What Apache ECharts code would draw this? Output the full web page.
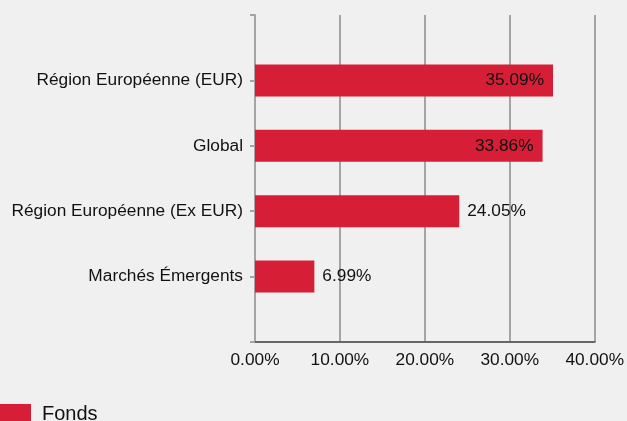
<!DOCTYPE html>
<html><head><meta charset="utf-8">
<script src="https://cdn.jsdelivr.net/npm/echarts@6/dist/echarts.min.js"></script>
<style>html,body{margin:0;padding:0;background:#f0f0f0}#c{width:627px;height:421px}</style>
</head><body><div id="c"></div>
<script>
const categories = ['Région Européenne (EUR)', 'Global', 'Région Européenne (Ex EUR)', 'Marchés Émergents'];
const values = [35.09, 33.86, 24.05, 6.99];
const seriesName = 'Fonds';
const xTicks = [0, 10, 20, 30, 40];

const axisCats = [''].concat(categories, ['']);
const data = [null].concat(values.map(v => ({
  value: v,
  label: v > 30 ? { position: 'insideRight', distance: 9 } : { position: 'right', distance: 8 }
})), [null]);

const chart = echarts.init(document.getElementById('c'), null, { renderer: 'canvas' });
chart.setOption({
  backgroundColor: '#f0f0f0',
  animation: false,
  textStyle: { fontFamily: 'Liberation Sans, Arial, sans-serif' },
  grid: { left: 255, right: 30, top: 15, bottom: 79, containLabel: false },
  legend: {
    left: 0, top: 404, padding: 0, itemWidth: 31, itemHeight: 20, itemGap: 10,
    icon: 'rect',
    textStyle: { fontSize: 20, color: '#111', padding: [0, 0, 0, 6], fontFamily: 'Liberation Sans, Arial, sans-serif' },
    data: [seriesName]
  },
  xAxis: {
    type: 'value', min: xTicks[0], max: xTicks[xTicks.length - 1], interval: 10,
    axisLine: { show: true, lineStyle: { color: '#666', width: 2 } },
    axisTick: { show: false },
    splitLine: { show: true, lineStyle: { color: '#a4a4a4', width: 2 } },
    axisLabel: { formatter: v => v.toFixed(2) + '%', fontSize: 17.3, color: '#111', margin: 10 }
  },
  yAxis: {
    type: 'category', inverse: true, boundaryGap: false, data: axisCats,
    axisLine: { show: true, lineStyle: { color: '#a4a4a4', width: 2 } },
    axisTick: { show: true, length: 5, lineStyle: { color: '#a4a4a4', width: 2 } },
    axisLabel: { fontSize: 17.3, color: '#111', margin: 12 },
    splitLine: { show: false }
  },
  series: [{
    name: seriesName, type: 'bar', data: data, barWidth: 32,
    itemStyle: { color: '#d61f36' },
    label: { show: true, formatter: p => p.value.toFixed(2) + '%', fontSize: 17.3, color: '#111' }
  }]
});
</script></body></html>
